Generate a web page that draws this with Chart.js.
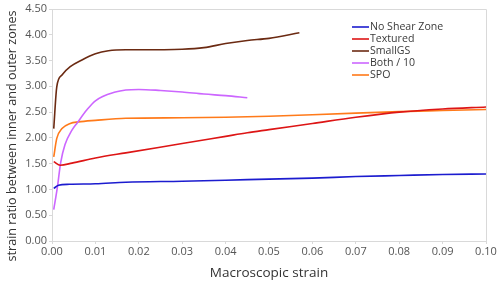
<!DOCTYPE html>
<html><head><meta charset="utf-8">
<script src="https://cdn.jsdelivr.net/npm/chart.js@4"></script>
<style>html,body{margin:0;padding:0;background:#fff}#wrap{width:500px;height:281px}</style>
</head><body><div id="wrap"><canvas id="c" width="500" height="281"></canvas></div>
<script>
const seriesNames = ["No Shear Zone","Textured","SmallGS","Both / 10","SPO"];
const seriesColors = ["#1c1ccf","#dd1515","#6b2a12","#cc66ff","#ff7a1a"];
const noShearX = [0.0004,0.0015,0.004,0.01,0.017,0.03,0.045,0.06,0.07,0.08,0.09,0.10];
const noShearY = [1.02,1.08,1.10,1.11,1.14,1.16,1.19,1.22,1.25,1.27,1.29,1.30];
const texturedX = [0.0004,0.0019,0.0046,0.01,0.017,0.03,0.04,0.045,0.05,0.06,0.07,0.08,0.09,0.10];
const texturedY = [1.54,1.47,1.51,1.61,1.71,1.89,2.03,2.10,2.16,2.28,2.40,2.50,2.56,2.60];
const smallGSX = [0.0004,0.0011,0.0023,0.0042,0.0069,0.01,0.013,0.017,0.02,0.03,0.035,0.04,0.045,0.05,0.057];
const smallGSY = [2.18,2.99,3.22,3.38,3.51,3.63,3.69,3.71,3.71,3.72,3.75,3.83,3.89,3.93,4.04];
const bothX = [0.0004,0.0012,0.002,0.003,0.0046,0.0058,0.008,0.01,0.0146,0.017,0.02,0.025,0.03,0.035,0.04,0.045];
const bothY = [0.61,1.02,1.52,1.87,2.15,2.29,2.54,2.72,2.89,2.93,2.94,2.92,2.89,2.85,2.82,2.78];
const spoX = [0.0004,0.0011,0.0023,0.0042,0.0061,0.01,0.017,0.03,0.04,0.05,0.06,0.07,0.08,0.09,0.10];
const spoY = [1.63,1.99,2.18,2.28,2.31,2.34,2.38,2.39,2.40,2.42,2.45,2.48,2.51,2.53,2.55];
const xTitle = "Macroscopic strain";
const yTitle = "strain ratio between inner and outer zones";

const allX = [noShearX,texturedX,smallGSX,bothX,spoX];
const allY = [noShearY,texturedY,smallGSY,bothY,spoY];
const FONT = "'Open Sans', sans-serif";

const datasets = seriesNames.map((n,i)=>({
  label:n,
  data: allX[i].map((x,j)=>({x:x,y:allY[i][j]})),
  borderColor: seriesColors[i],
  backgroundColor: seriesColors[i],
  borderWidth: 1.6,
  pointRadius: 0,
  cubicInterpolationMode: 'monotone',
  fill:false
}));

const frame = {
  id:'frame',
  afterDraw(chart){
    const {ctx, chartArea:a} = chart;
    ctx.save();
    ctx.strokeStyle = '#d9d9d9';
    ctx.lineWidth = 1;
    ctx.beginPath();
    ctx.moveTo(a.left, a.top+0.5); ctx.lineTo(a.right+0.5, a.top+0.5); ctx.lineTo(a.right+0.5, a.bottom);
    ctx.stroke();
    // y title
    ctx.save();
    ctx.translate(12, 136);
    ctx.rotate(-Math.PI/2);
    ctx.font = "12.6px " + FONT;
    ctx.fillStyle = '#333';
    ctx.textAlign = 'center';
    ctx.textBaseline = 'middle';
    ctx.fillText(yTitle, 0, 0);
    ctx.restore();
    // legend
    ctx.font = "10.6px " + FONT;
    ctx.textBaseline = 'middle';
    ctx.fillStyle = '#3a3a3a';
    seriesNames.forEach((n,i)=>{
      const y = 27 + i*12;
      ctx.strokeStyle = seriesColors[i];
      ctx.lineWidth = 1.6;
      ctx.beginPath(); ctx.moveTo(352,y); ctx.lineTo(369,y); ctx.stroke();
      ctx.fillText(n, 370, y);
    });
    ctx.restore();
  }
};

new Chart(document.getElementById('c'), {
  type:'line',
  data:{datasets},
  options:{
    responsive:false, animation:false,
    layout:{padding:{top:9,right:14,left:0,bottom:0}},
    plugins:{legend:{display:false},tooltip:{enabled:false}},
    scales:{
      x:{type:'linear',min:0,max:0.1,
        afterFit(s){s.height=40;},
        grid:{display:true,drawOnChartArea:false,tickLength:3,color:'#d9d9d9'},
        border:{color:'#d9d9d9'},
        ticks:{stepSize:0.01,padding:1,color:'#555',font:{family:FONT,size:11},maxRotation:0,
          callback:v=>Number(v).toFixed(2)},
        title:{display:true,text:xTitle,color:'#333',font:{family:FONT,size:13.5},padding:{top:3,bottom:0}}
      },
      y:{min:0,max:4.5,
        afterFit(s){s.width=52;},
        grid:{display:true,drawOnChartArea:false,tickLength:3,color:'#d9d9d9'},
        border:{color:'#d9d9d9'},
        ticks:{stepSize:0.5,padding:2,color:'#555',font:{family:FONT,size:11},
          callback:v=>Number(v).toFixed(2)},
        title:{display:false}
      }
    }
  },
  plugins:[frame]
});
</script></body></html>
